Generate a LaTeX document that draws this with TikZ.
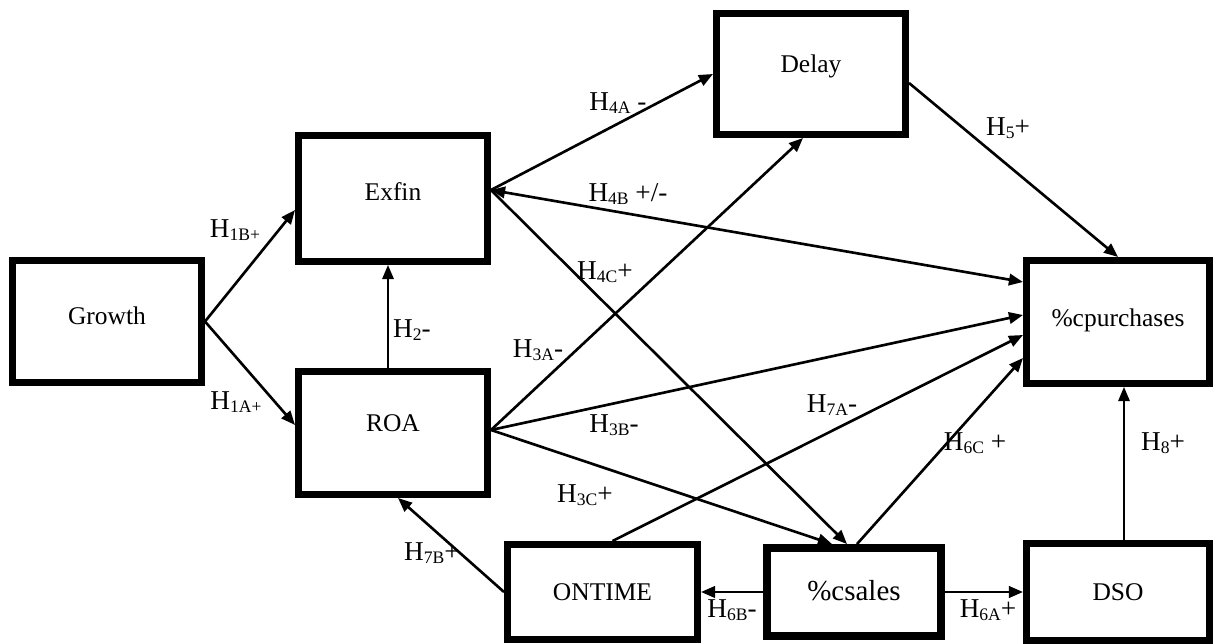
\documentclass[tikz,border=0pt]{standalone}
\usepackage{fontspec}
\setmainfont{Liberation Serif}
\usetikzlibrary{arrows.meta,calc}
\newcommand\sbs[1]{\raisebox{-0.12em}{\fontsize{10}{10}\selectfont #1}}
\begin{document}
\begin{tikzpicture}[x=0.02cm,y=-0.02cm,
  box/.style={draw, line width=4pt, rectangle, inner sep=0pt,
    font=\fontsize{14.5}{14.5}\selectfont, text height=10pt},
  arr/.style={line width=1.5pt, -{Triangle[length=8pt,width=6.5pt]}},
  lab/.style={inner sep=0pt, font=\fontsize{15.5}{15.5}\selectfont}]
\useasboundingbox (0,0) rectangle (1214,644);

% boxes
\node[box, minimum width=3.78cm, minimum height=2.44cm, text depth=7pt] (growth) at (107,321.5) {Growth};
\node[box, minimum width=3.78cm, minimum height=2.52cm, text depth=8pt] (exfin) at (393,198.5) {Exfin};
\node[box, minimum width=3.78cm, minimum height=2.46cm, text depth=12pt] (roa) at (393,433) {ROA};
\node[box, minimum width=3.78cm, minimum height=2.42cm, text depth=12pt] (delay) at (811,74) {Delay};
\node[box, minimum width=3.66cm, minimum height=2.46cm, text depth=4.5pt] (cp) at (1118,322) {\%cpurchases};
\node[box, minimum width=3.80cm, minimum height=1.90cm, text depth=0pt] (ontime) at (602.5,592) {ONTIME};
\node[box, line width=4.5pt, minimum width=3.48cm, minimum height=1.76cm, text depth=0pt,
  font=\fontsize{16.5}{16.5}\selectfont] (csales) at (854,592) {\%csales};
\node[box, minimum width=3.66cm, minimum height=1.94cm, text depth=0pt] (dso) at (1118,592) {DSO};

% connectors
\draw[arr] (growth.east) -- ($(exfin.west)+(0,11.5)$);
\draw[arr] (growth.east) -- ($(roa.west)+(0,-8)$);
\draw[arr, line width=1.1pt] ($(roa.north)+(-5,0)$) -- ($(exfin.south)+(-5,0)$);
\draw[arr] ($(exfin.east)+(0,-8.5)$) -- (delay.west);
\draw[line width=1.5pt, {Triangle[length=8pt,width=6.5pt]}-{Triangle[length=8pt,width=6.5pt]}] ($(exfin.east)+(0,-8.5)$) -- ($(cp.west)+(0,-40)$);
\draw[arr] ($(exfin.east)+(0,-8.5)$) -- ($(csales.north)+(-7,0)$);
\draw[arr] ($(roa.east)+(0,-3)$) -- ($(delay.south)+(-8,0)$);
\draw[arr] ($(roa.east)+(0,-3)$) -- ($(cp.west)+(0,-7)$);
\draw[arr] ($(roa.east)+(0,-3)$) -- ($(csales.north)+(-22,0)$);
\draw[arr] ($(ontime.north)+(10,0)$) -- ($(cp.west)+(0,13)$);
\draw[arr] (ontime.west) -- ($(roa.south)+(5,0)$);
\draw[arr] (csales.west) -- (ontime.east);
\draw[arr] (csales.east) -- (dso.west);
\draw[arr] ($(csales.north)+(3,0)$) -- ($(cp.west)+(0,36)$);
\draw[arr] ($(delay.east)+(0,9)$) -- (cp.north);
\draw[arr, line width=1pt] ($(dso.north)+(6,0)$) -- ($(cp.south)+(6,0)$);

% labels
\node[lab] (l1b) at (235,230) {H\sbs{1B+}};
\node[lab] (l1a) at (236,402) {H\sbs{1A+}};
\node[lab] (l2)  at (412,330) {H\sbs{2}-};
\node[lab] (l4a) at (618,103) {H\sbs{4A} -};
\node[lab] (l4b) at (628,194) {H\sbs{4B} +/-};
\node[lab] (l4c) at (605,272) {H\sbs{4C}+};
\node[lab] (l3a) at (538,350) {H\sbs{3A}-};
\node[lab] (l3b) at (614,425) {H\sbs{3B}-};
\node[lab] (l7a) at (832,405) {H\sbs{7A}-};
\node[lab] (l3c) at (585,495) {H\sbs{3C}+};
\node[lab] (l7b) at (432,553) {H\sbs{7B}+};
\node[lab] (l6c) at (975,443) {H\sbs{6C} +};
\node[lab] (l5)  at (1008,128) {H\sbs{5}+};
\node[lab] (l8)  at (1163,443) {H\sbs{8}+};
\node[lab] (l6b) at (732,610) {H\sbs{6B}-};
\node[lab] (l6a) at (988,610) {H\sbs{6A}+};
\end{tikzpicture}
\end{document}
